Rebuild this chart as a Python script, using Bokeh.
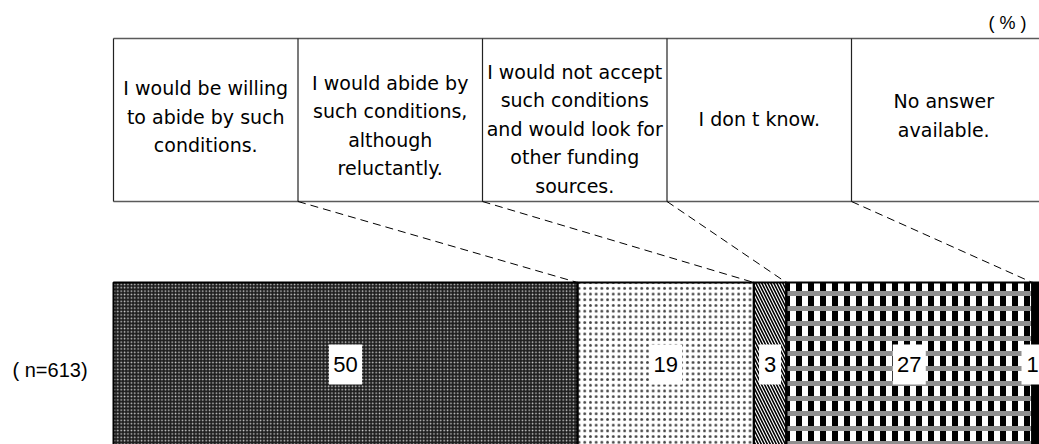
from bokeh.plotting import figure
from bokeh.models import Range1d
from bokeh.embed import file_html
from bokeh.resources import INLINE
from bokeh.core.properties import value

# ---- data ----
categories = [
    "I would be willing\nto abide by such\nconditions.",
    "I would abide by\nsuch conditions,\nalthough\nreluctantly.",
    "I would not accept\nsuch conditions\nand would look for\nother funding\nsources.",
    "I don t know.",
    "No answer\navailable.",
]
shares = [50.0, 19.0, 3.5, 26.5, 1.0]
share_labels = ["50", "19", "3", "27", "1"]
sample_label = "( n=613)"
unit_label = "( % )"

# ---- layout helpers (screen px -> data) ----
PX0 = 113.0     # screen x of 0 %
PXS = 9.28      # screen px per %


def to_x(sx):
    return (sx - PX0) / PXS


W, H = 1039, 444
p = figure(width=W, height=H, output_backend="svg", toolbar_location=None,
           x_range=Range1d(to_x(0), to_x(W)), y_range=Range1d(H, 0),
           min_border=0, outline_line_color=None)
p.axis.visible = False
p.grid.visible = False
p.background_fill_color = "white"
p.border_fill_color = "white"

# ---- bar ----
starts = [sum(shares[:i]) for i in range(len(shares))]
ends = [s + v for s, v in zip(starts, shares)]
bar_top, bar_bottom = 282, 448

styles = [
    dict(fill_color="#1e1e1e", hatch_pattern="dot", hatch_color="#cfcfcf", hatch_scale=3.4, hatch_weight=1),
    dict(fill_color="white", hatch_pattern="dot", hatch_color="#444444", hatch_scale=5.7, hatch_weight=1),
    dict(fill_color="white", hatch_pattern="left_diagonal_line", hatch_color="black", hatch_scale=6, hatch_weight=1.6),
    dict(fill_color="white", hatch_pattern="vertical_line", hatch_color="black", hatch_scale=12, hatch_weight=6),
    dict(fill_color="black"),
]
for i, st in enumerate(styles):
    p.quad(left=[starts[i]], right=[ends[i]], top=[bar_top], bottom=[bar_bottom],
           line_color=None, **st)
# grey bands over the checked segment
p.quad(left=[starts[3]], right=[ends[3]], top=[bar_top], bottom=[bar_bottom],
       fill_alpha=0, line_color=None, hatch_pattern="horizontal_line",
       hatch_color="#8f8f8f", hatch_scale=15, hatch_weight=5)
# outlines
p.quad(left=starts, right=ends, top=[bar_top] * 5, bottom=[bar_bottom] * 5,
       fill_alpha=0, line_color="black", line_width=2)

# value labels (kept inside the visible area)
centers = [min((s + e) / 2, to_x(1032)) for s, e in zip(starts, ends)]
label_y = 364
p.rect(x=centers, y=[label_y] * 5, width=[11 * len(t) + 11 for t in share_labels],
       height=40, width_units="screen", height_units="screen",
       fill_color="white", line_color=None)
p.text(x=centers, y=[label_y] * 5, text=share_labels, text_align="center",
       text_baseline="middle", text_font=value("Liberation Sans"),
       text_font_size="22px", text_color="black")

# ---- header boxes ----
box_w = 184.5
box_top, box_bot = 38, 201
lefts_px = [PX0 + i * box_w for i in range(len(categories))]
lefts = [to_x(v) for v in lefts_px]
p.segment(x0=[lefts[0], lefts[0]], y0=[box_top, box_bot],
          x1=[to_x(1045), to_x(1045)], y1=[box_top, box_bot],
          line_color="#5a5a5a", line_width=1.6)
p.segment(x0=lefts, y0=[box_top] * 5, x1=lefts, y1=[box_bot] * 5,
          line_color="#222222", line_width=1.2)

centers_y = [116, 125, 128, 118, 115]
line_gap = 28.5
for i, cat in enumerate(categories):
    lines = cat.split("\n")
    n = len(lines)
    cx = to_x(lefts_px[i] + box_w / 2)
    ys = [centers_y[i] + (j - (n - 1) / 2) * line_gap for j in range(n)]
    p.text(x=[cx] * n, y=ys, text=lines, text_align="center", text_baseline="middle",
           text_font=value("DejaVu Sans"), text_font_size="19px", text_color="black")

# connectors
p.segment(x0=lefts[1:], y0=[box_bot] * 4, x1=starts[1:], y1=[bar_top] * 4,
          line_color="black", line_width=1, line_dash="8 5")

# unit and sample labels
p.text(x=[to_x(1026)], y=[22], text=[unit_label], text_align="right", text_baseline="middle",
       text_font=value("Liberation Sans"), text_font_size="18px", text_color="black")
p.text(x=[to_x(12)], y=[369], text=[sample_label], text_align="left", text_baseline="middle",
       text_font=value("Liberation Sans"), text_font_size="20px", text_color="black")

open("out.html", "w").write(file_html(p, INLINE))
